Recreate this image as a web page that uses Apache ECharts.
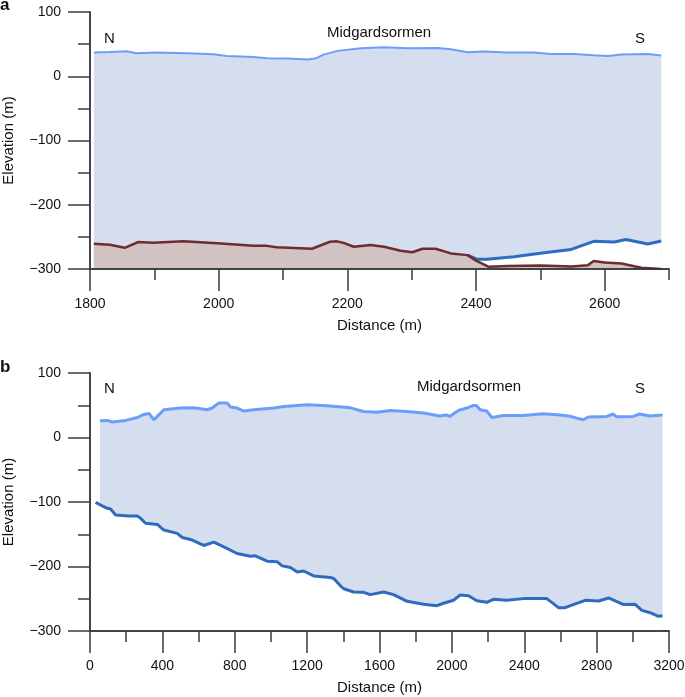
<!DOCTYPE html>
<html>
<head>
<meta charset="utf-8">
<script src="https://cdn.jsdelivr.net/npm/echarts@6/dist/echarts.min.js"></script>
<style>
  html, body { margin: 0; padding: 0; background: #fff; }
  #container { width: 685px; height: 697px; }
</style>
</head>
<body>
<div id="container"></div>
<script>
// panel a: [distance, elevation]
const aSurface = [
  [1806, 36.8], [1831, 37.8], [1857, 38.9], [1872, 35.8], [1904, 36.8], [1951, 35.8],
  [1992, 34.2], [2013, 31.6], [2054, 30], [2075, 28], [2107, 27.5], [2138, 25.9],
  [2150, 27.5], [2163, 33.7], [2185, 39.5], [2221, 43.6], [2257, 45.2], [2294, 43.6],
  [2340, 44], [2361, 42], [2387, 37.4], [2412, 38.4], [2449, 36.8], [2490, 36.8],
  [2516, 34.8], [2553, 34.8], [2583, 32.7], [2605, 31.6], [2626, 33.7], [2667, 34.8],
  [2688, 32.2]
];
const aBed = [
  [1806, -260.7], [1831, -262.3], [1854, -267], [1875, -258], [1898, -259], [1945, -257],
  [1998, -260], [2054, -264], [2075, -264], [2090, -266], [2145, -268.5], [2173, -257.6],
  [2184, -257], [2193, -259], [2210, -265.4], [2236, -262.8], [2257, -265.4], [2283, -271.6],
  [2301, -274], [2317, -268.5], [2337, -268.5], [2361, -275.7], [2387, -278.4], [2400, -287],
  [2420, -296.6], [2449, -295.5], [2501, -294.4], [2548, -296], [2574, -294], [2583, -287.7],
  [2600, -290], [2626, -291.4], [2657, -298], [2688, -300]
];
const aIceBase = [
  [2387, -278.4], [2402, -285], [2417, -285], [2459, -281], [2506, -274.7], [2548, -269.5],
  [2583, -257], [2615, -258], [2633, -254], [2667, -261], [2688, -256.5]
];

// panel b
const bSurface = [
  [55, 26], [96, 26.5], [124, 24], [197, 26.5], [262, 31], [298, 35.8], [326, 37.3],
  [353, 27.5], [372, 32.7], [408, 43], [500, 45.7], [574, 46.2], [648, 43], [675, 45.7],
  [712, 53.5], [758, 53.5], [777, 47.3], [813, 45.7], [850, 41], [905, 43], [1016, 45.7],
  [1071, 48.2], [1200, 50.8], [1310, 49.2], [1440, 46], [1512, 40.4], [1587, 39],
  [1660, 42], [1752, 40.4], [1844, 38], [1933, 33.2], [1970, 35], [1988, 32.7], [2036, 42],
  [2083, 45.7], [2119, 49.8], [2137, 49.3], [2156, 43], [2193, 41], [2221, 31], [2285, 34.2],
  [2395, 34.2], [2505, 37], [2598, 35], [2653, 33], [2690, 30], [2726, 27.5], [2754, 31.8],
  [2856, 32.7], [2892, 36.4], [2910, 32], [3002, 32.7], [3038, 36.4], [3094, 33.2], [3164, 35]
];
const bIceBase = [
  [31, -100.5], [59, -104.7], [96, -109.8], [114, -110.9], [142, -120.2], [215, -121.8],
  [262, -121.8], [280, -125.4], [307, -133], [372, -134.7], [408, -143.5], [482, -148.7],
  [510, -155], [565, -159], [629, -167.4], [684, -162.2], [740, -169.5], [813, -179.8],
  [887, -184], [914, -183.5], [979, -191.8], [1034, -192.5], [1062, -199], [1108, -201.6],
  [1145, -208.4], [1181, -207], [1236, -214.6], [1328, -217], [1347, -218.6], [1384, -230],
  [1402, -234.5], [1457, -239.5], [1512, -240], [1549, -243.6], [1623, -239.5], [1678, -243.6],
  [1752, -254], [1844, -258.6], [1917, -260.7], [1954, -257], [2009, -252.4], [2046, -244.2],
  [2092, -245.3], [2138, -253], [2193, -255.5], [2229, -250.9], [2303, -252.4], [2395, -249.8],
  [2524, -249.8], [2561, -257.6], [2589, -263.8], [2626, -263.8], [2663, -260], [2737, -252.4],
  [2811, -253.5], [2866, -248.8], [2949, -259], [3013, -258.6], [3050, -268], [3096, -271.6],
  [3142, -277.3], [3164, -276.5]
];

// tick values
const aXMajor = [1800, 2000, 2200, 2400, 2600];
const aXMinor = [1900, 2100, 2300, 2500, 2700];
const bXMajor = [0, 400, 800, 1200, 1600, 2000, 2400, 2800, 3200];
const bXMinor = [200, 600, 1000, 1400, 1800, 2200, 2600, 3000];
const yMajor = [-300, -200, -100, 0, 100];
const yMinor = [-250, -150, -50, 50];

const font = 'Liberation Sans, Arial, Helvetica, sans-serif';
const axisColor = '#3a3a3a';
const plain = v => String(v).replace('-', '\u2212');

const chart = echarts.init(document.getElementById('container'));

function xAxes(grid, min, max, major, minor) {
  return [
    {
      type: 'value', gridIndex: grid, min: min, max: max, position: 'bottom', z: 5,
      name: 'Distance (m)', nameLocation: 'middle', nameGap: 49,
      nameTextStyle: { fontFamily: font, fontSize: 15, color: '#111' },
      axisLine: { onZero: false, lineStyle: { color: axisColor, width: 1.5 } },
      axisTick: { length: 22, customValues: major, lineStyle: { color: axisColor, width: 1.5 } },
      axisLabel: { customValues: major, margin: 28, fontFamily: font, fontSize: 14, color: '#111', formatter: plain },
      splitLine: { show: false }
    },
    {
      type: 'value', gridIndex: grid, min: min, max: max, position: 'bottom', z: 5,
      axisLine: { show: true, onZero: false, lineStyle: { color: axisColor, width: 1.5 } },
      axisTick: { show: true, length: 11, customValues: minor, lineStyle: { color: axisColor, width: 1.5 } },
      axisLabel: { show: false },
      splitLine: { show: false }
    }
  ];
}

function yAxes(grid) {
  return [
    {
      type: 'value', gridIndex: grid, min: -300, max: 100, position: 'left', z: 5,
      name: 'Elevation (m)', nameLocation: 'middle', nameGap: 74,
      nameTextStyle: { fontFamily: font, fontSize: 15, color: '#111' },
      axisLine: { show: true, onZero: false, lineStyle: { color: axisColor, width: 1.5 } },
      axisTick: { show: true, length: 22, customValues: yMajor, lineStyle: { color: axisColor, width: 1.5 } },
      axisLabel: { customValues: yMajor, margin: 29, fontFamily: font, fontSize: 14, color: '#111', formatter: plain },
      splitLine: { show: false }
    },
    {
      type: 'value', gridIndex: grid, min: -300, max: 100, position: 'left', z: 5,
      axisLine: { show: true, onZero: false, lineStyle: { color: axisColor, width: 1.5 } },
      axisTick: { show: true, length: 12, customValues: yMinor, lineStyle: { color: axisColor, width: 1.5 } },
      axisLabel: { show: false },
      splitLine: { show: false }
    }
  ];
}

function area(name, data, x, y, lineColor, lineWidth, fill) {
  return {
    name: name, type: 'line', xAxisIndex: x, yAxisIndex: y, data: data,
    showSymbol: false, symbol: 'none', silent: true,
    lineStyle: { color: lineColor, width: lineWidth },
    areaStyle: fill ? { color: fill, opacity: 1, origin: 'start' } : undefined
  };
}

function note(text, x, y, size, bold) {
  return {
    type: 'text', left: x, top: y,
    style: { text: text, font: (bold ? 'bold ' : '') + size + 'px ' + font, fill: '#111' }
  };
}

const iceFill = '#d5deef';
const surfaceColor = '#6b9dfb';
const baseColor = '#2f6cc0';
const bedColor = '#6e2c31';
const bedFill = '#d3c2c2';

chart.setOption({
  animation: false,
  grid: [
    { left: 90, top: 12, width: 579, height: 257, outerBoundsMode: 'none', containLabel: false },
    { left: 90, top: 373, width: 579, height: 258, outerBoundsMode: 'none', containLabel: false }
  ],
  xAxis: [
    ...xAxes(0, 1800, 2700, aXMajor, aXMinor),
    ...xAxes(1, 0, 3200, bXMajor, bXMinor)
  ],
  yAxis: [
    ...yAxes(0),
    ...yAxes(1)
  ],
  graphic: [
    note('a', 0, -3, 17, true),
    note('b', 0, 359, 17, true),
    note('N', 104, 31, 15),
    note('Midgardsormen', 327, 25, 15),
    note('S', 635, 31, 15),
    note('N', 104, 381, 15),
    note('Midgardsormen', 417, 379, 15),
    note('S', 635, 381, 15)
  ],
  series: [
    area('surface a', aSurface, 0, 0, surfaceColor, 2, iceFill),
    area('ice base a', aIceBase, 0, 0, baseColor, 3, '#ffffff'),
    area('bed a', aBed, 0, 0, bedColor, 2.5, bedFill),
    area('surface b', bSurface, 2, 2, surfaceColor, 3, iceFill),
    area('ice base b', bIceBase, 2, 2, baseColor, 3, '#ffffff')
  ]
});
</script>
</body>
</html>
